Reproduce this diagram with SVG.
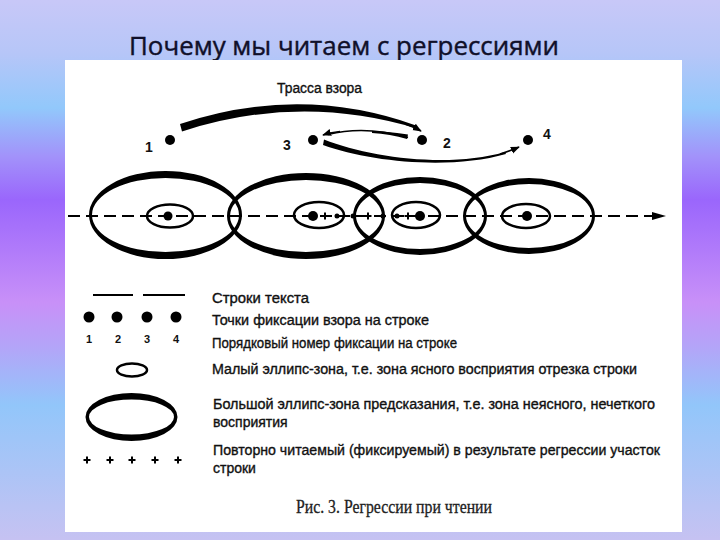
<svg xmlns="http://www.w3.org/2000/svg" xmlns:xlink="http://www.w3.org/1999/xlink" width="720" height="540" viewBox="0 0 720 540">
  <defs>
    <linearGradient id="bg" x1="0" y1="0" x2="0" y2="1">
      <stop offset="0" stop-color="#c8c8f8"/>
      <stop offset="0.1" stop-color="#b6c6f8"/>
      <stop offset="0.2" stop-color="#92c8fb"/>
      <stop offset="0.29" stop-color="#a292fa"/>
      <stop offset="0.37" stop-color="#9a66fc"/>
      <stop offset="0.56" stop-color="#c890f8"/>
      <stop offset="0.64" stop-color="#b4a4f8"/>
      <stop offset="0.75" stop-color="#92c6fa"/>
      <stop offset="1" stop-color="#c6c2f2"/>
    </linearGradient>
    <path id="plus" d="M-3.5,0H3.5M0,-3.5V3.5"/>
    <marker id="ah" viewBox="0 0 10 10" refX="9" refY="5" markerWidth="9" markerHeight="9" markerUnits="userSpaceOnUse" orient="auto">
      <path d="M0,1 L10,5 L0,9 Z" fill="#000"/>
    </marker>
  </defs>
  <style>
    .lbl { font-family: "Liberation Sans", Arial, sans-serif; font-size: 14px; fill: #111; stroke: #111; stroke-width: 0.35px; }
    .num { font-family: "Liberation Sans", Arial, sans-serif; font-size: 14px; font-weight: bold; fill: #111; }
    .lnum { font-family: "Liberation Sans", Arial, sans-serif; font-size: 11px; font-weight: bold; fill: #111; }
    .ring { fill: #000; fill-rule: evenodd; }
    .small { fill: none; stroke: #000; stroke-width: 2.5; }
    .plus { stroke: #000; stroke-width: 2; fill: none; }
    .dot { fill: #000; }
  </style>

  <rect x="0" y="0" width="720" height="540" fill="url(#bg)"/>
  <text x="129" y="55" font-family="'Open Sans', 'DejaVu Sans', sans-serif" font-size="25" fill="#10102a" stroke="#10102a" stroke-width="0.4" textLength="430" lengthAdjust="spacingAndGlyphs">Почему мы читаем с регрессиями</text>

  <rect x="65" y="60" width="617" height="472" fill="#ffffff"/>

  <text x="277" y="93" class="lbl" textLength="85" lengthAdjust="spacingAndGlyphs">Трасса взора</text>

  <!-- axis -->
  <g id="axis">
    <line x1="68" y1="216" x2="657" y2="216" stroke="#000" stroke-width="2" stroke-dasharray="12 6"/>
    <polygon points="652,212 666,216 652,220" fill="#000"/>
  </g>

  <!-- big ellipses -->
  <g id="zone1"><path class="ring" d="M89,215 a76.5,44 0 1,0 153,0 a76.5,44 0 1,0 -153,0 Z M92,215 a73.5,37 0 1,0 147,0 a73.5,37 0 1,0 -147,0 Z"/></g>
  <g id="zone2"><path class="ring" d="M227,216 a79,43 0 1,0 158,0 a79,43 0 1,0 -158,0 Z M230,216 a76,36 0 1,0 152,0 a76,36 0 1,0 -152,0 Z"/></g>
  <g id="zone3"><path class="ring" d="M353,216 a67,39 0 1,0 134,0 a67,39 0 1,0 -134,0 Z M356,216 a64,33 0 1,0 128,0 a64,33 0 1,0 -128,0 Z"/></g>
  <g id="zone4"><path class="ring" d="M463,216 a66,38 0 1,0 132,0 a66,38 0 1,0 -132,0 Z M466,216 a63,32 0 1,0 126,0 a63,32 0 1,0 -126,0 Z"/></g>

  <!-- small ellipses -->
  <g id="clear1"><ellipse class="small" cx="170" cy="216" rx="23" ry="11.5"/></g>
  <g id="clear2"><ellipse class="small" cx="319" cy="215" rx="25" ry="13"/></g>
  <g id="clear3"><ellipse class="small" cx="416" cy="215" rx="24" ry="13"/></g>
  <g id="clear4"><ellipse class="small" cx="526" cy="216" rx="24" ry="12"/></g>

  <!-- points on axis -->
  <g id="line-marks">
    <circle class="dot" cx="168" cy="216" r="4.5"/>
    <circle class="dot" cx="313" cy="216" r="5"/>
    <use href="#plus" xlink:href="#plus" class="plus" x="325" y="216"/>
    <circle class="dot" cx="337" cy="216" r="2.5"/>
    <circle class="dot" cx="353" cy="216" r="2.5"/>
    <use href="#plus" xlink:href="#plus" class="plus" x="368" y="216"/>
    <circle class="dot" cx="383" cy="216" r="2.5"/>
    <circle class="dot" cx="397" cy="216" r="2.5"/>
    <use href="#plus" xlink:href="#plus" class="plus" x="408" y="216"/>
    <circle class="dot" cx="420" cy="216" r="5"/>
    <circle class="dot" cx="527" cy="216" r="5"/>
  </g>

  <!-- fixation points -->
  <g id="fix1"><circle class="dot" cx="170" cy="140" r="5"/><text class="num" x="145" y="152">1</text></g>
  <g id="fix3"><circle class="dot" cx="313" cy="140" r="5"/><text class="num" x="283" y="150">3</text></g>
  <g id="fix2"><circle class="dot" cx="422" cy="140" r="5"/><text class="num" x="443" y="148">2</text></g>
  <g id="fix4"><circle class="dot" cx="528" cy="140" r="5"/><text class="num" x="543" y="139">4</text></g>

  <!-- connectors -->
  <g id="connectors">
    <path d="M180,124 Q300,84 416,125.5 L417,128.5 Q300,93 182,131.5 Z" fill="#000"/>
    <path d="M405,124 Q414,127 421,131" fill="none" stroke="#000" stroke-width="1.5" marker-end="url(#ah)"/>
    <path d="M408,137.5 Q365,125 328,134.5" fill="none" stroke="#000" stroke-width="1.5"/>
    <path d="M408,134.5 Q385,131 372,131 L372,133 Q390,134 407,139 Z" fill="#000"/>
    <path d="M340,131.5 Q332,132 323,135" fill="none" stroke="#000" stroke-width="1.5" marker-end="url(#ah)"/>
    <path d="M324,139.5 C370,158 450,168 505,152 L506,154 C450,170 370,162 323,145 Z" fill="#000"/>
    <path d="M500,154 Q510,151 519,147" fill="none" stroke="#000" stroke-width="1.5" marker-end="url(#ah)"/>
  </g>

  <!-- legend -->
  <g id="legend-lines">
    <line x1="93" y1="295" x2="133" y2="295" stroke="#000" stroke-width="2"/>
    <line x1="143" y1="295" x2="185" y2="295" stroke="#000" stroke-width="2"/>
    <text class="lbl" x="212" y="303" textLength="97" lengthAdjust="spacingAndGlyphs">Строки текста</text>
  </g>
  <g id="legend-dots">
    <circle class="dot" cx="89" cy="317" r="5.5"/>
    <circle class="dot" cx="117" cy="317" r="5.5"/>
    <circle class="dot" cx="147" cy="317" r="5.5"/>
    <circle class="dot" cx="176" cy="317" r="5.5"/>
    <text class="lbl" x="212" y="325" textLength="217" lengthAdjust="spacingAndGlyphs">Точки фиксации взора на строке</text>
  </g>
  <g id="legend-numbers">
    <text class="lnum" x="86" y="343">1</text>
    <text class="lnum" x="115" y="343">2</text>
    <text class="lnum" x="144" y="343">3</text>
    <text class="lnum" x="173" y="343">4</text>
    <text class="lbl" x="212" y="348" textLength="245" lengthAdjust="spacingAndGlyphs">Порядковый номер фиксации на строке</text>
  </g>
  <g id="legend-small">
    <ellipse class="small" cx="132" cy="370" rx="15" ry="6.5"/>
    <text class="lbl" x="212" y="374" textLength="425" lengthAdjust="spacingAndGlyphs">Малый эллипс-зона, т.е. зона ясного восприятия отрезка строки</text>
  </g>
  <g id="legend-big">
    <path class="ring" d="M85.5,417 a46,24 0 1,0 92,0 a46,24 0 1,0 -92,0 Z M89,417 a42.5,17.5 0 1,0 85,0 a42.5,17.5 0 1,0 -85,0 Z"/>
    <text class="lbl" x="213" y="409" textLength="442" lengthAdjust="spacingAndGlyphs">Большой эллипс-зона предсказания, т.е. зона неясного, нечеткого</text>
    <text class="lbl" x="213" y="427">восприятия</text>
  </g>
  <g id="legend-plus">
    <use href="#plus" xlink:href="#plus" class="plus" x="87" y="460"/>
    <use href="#plus" xlink:href="#plus" class="plus" x="110" y="460"/>
    <use href="#plus" xlink:href="#plus" class="plus" x="132" y="460"/>
    <use href="#plus" xlink:href="#plus" class="plus" x="155" y="460"/>
    <use href="#plus" xlink:href="#plus" class="plus" x="178" y="460"/>
    <text class="lbl" x="213" y="455" textLength="447" lengthAdjust="spacingAndGlyphs">Повторно читаемый (фиксируемый) в результате регрессии участок</text>
    <text class="lbl" x="213" y="473">строки</text>
  </g>
  <text x="296" y="513" font-family="'Liberation Serif', 'Times New Roman', serif" font-size="19" fill="#222" stroke="#222" stroke-width="0.3" textLength="196" lengthAdjust="spacingAndGlyphs">Рис. 3. Регрессии при чтении</text>
</svg>
